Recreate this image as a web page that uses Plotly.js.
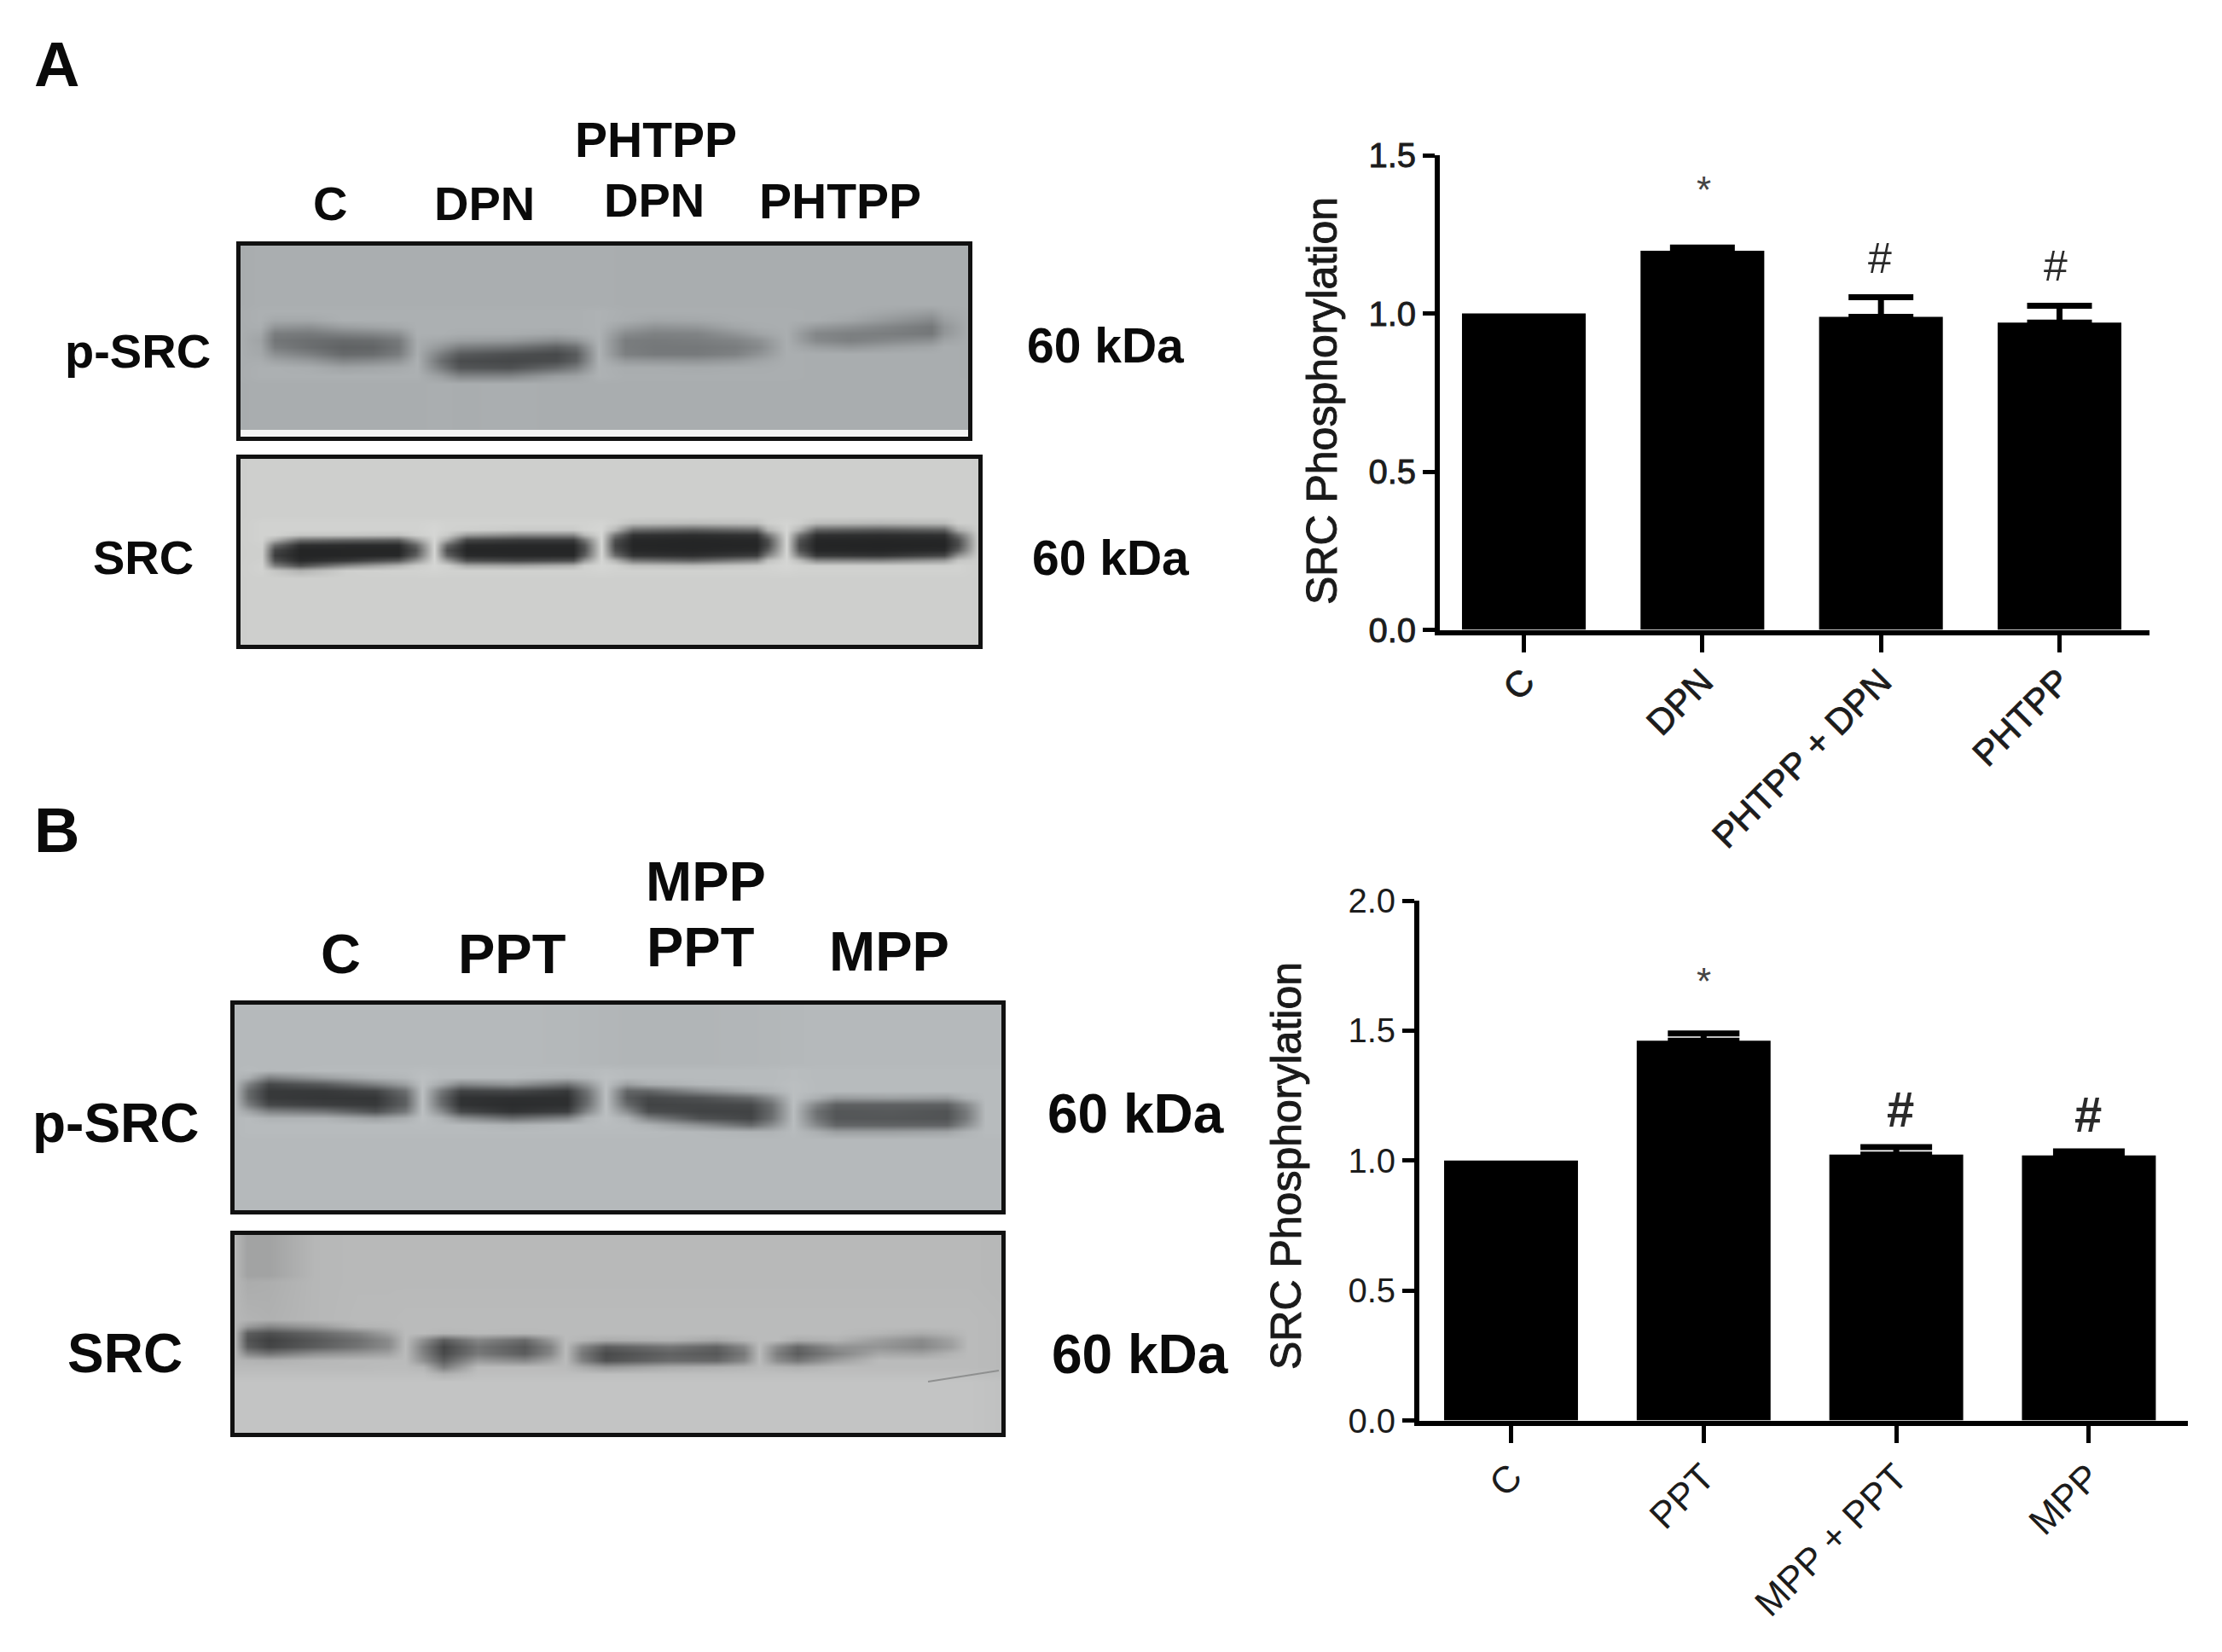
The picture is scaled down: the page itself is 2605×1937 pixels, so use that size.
<!DOCTYPE html>
<html><head><meta charset="utf-8">
<script src="https://cdn.plot.ly/plotly-3.0.1.min.js"></script>
<style>html,body{margin:0;padding:0;background:#fff}
.xtick text,.ytick text{stroke:#1c1c1c;stroke-width:.9px}
.annotation[data-index="20"] text,.annotation[data-index="21"] text{stroke:#1a1a1a;stroke-width:1px}
</style></head>
<body><div id="chart" style="width:2605px;height:1937px"></div>
<script>
// ---- bar charts: values ----
const catsA = ['C','DPN','PHTPP + DPN','PHTPP'];
const valsA = [1.0,1.198,0.989,0.971];
const errsA = [NaN,0.010,0.062,0.053];
const catsB = ['C','PPT','MPP + PPT','MPP'];
const valsB = [1.0,1.461,1.023,1.02];
const errsB = [NaN,0.028,0.029,0.015];
const sigA = ['','*','#','#'];
const sigB = ['','*','#','#'];
const sigYA = [0,1.39,1.175,1.15];
const sigYB = [0,1.69,1.198,1.179];
const sigShiftA = [0,2,-1,-5];
const sigShiftB = [0,0,5,-1];
const yTitle = 'SRC Phosphorylation';

// ---- blot lanes: grey level (0-255) read per gel column, top to bottom ----
const gelA1X = [5,28,45,85,125,160,190,212,240,262,320,375,398,425,456,490,540,585,612,645,680,720,770,815,830,858];
const gelA1Y = [10,82,92,100,108,116,124,132,140,148,158,222];
const gelA1 = [
[164,165,165,165,165,165,165,165,165,165,165,164],
[166,168,168,166,160,155,158,160,165,168,168,165],
[166,168,160,140,115,108,115,135,155,168,168,165],
[166,168,160,135,112,100,100,118,145,165,168,165],
[166,168,168,150,120,95,88,95,125,155,168,165],
[166,168,168,155,125,98,90,98,130,158,168,165],
[166,168,168,160,135,112,108,115,140,162,168,165],
[166,168,168,168,168,165,165,165,168,168,168,165],
[166,168,168,168,168,158,140,115,100,115,150,166],
[166,168,168,168,165,150,115,80,65,75,125,165],
[166,168,168,168,165,145,105,68,60,70,125,166],
[166,168,168,168,160,130,85,62,65,95,150,165],
[166,168,168,168,165,140,100,80,85,115,155,165],
[166,170,170,170,170,170,170,170,170,170,170,165],
[165,166,165,150,130,115,115,118,145,164,166,165],
[165,166,158,138,120,112,110,112,142,164,166,165],
[165,166,160,142,122,115,110,112,140,162,166,165],
[165,166,165,158,140,122,115,120,146,164,166,165],
[165,166,166,164,155,135,128,138,156,164,166,165],
[165,166,166,166,166,166,166,166,166,166,166,165],
[165,165,165,145,125,128,150,165,165,165,165,165],
[165,165,158,135,118,118,142,165,165,165,165,165],
[165,158,142,122,115,128,152,165,165,165,165,165],
[165,150,128,110,110,135,158,165,165,165,165,165],
[165,160,150,140,142,155,165,165,165,165,165,165],
[165,164,164,164,164,164,164,164,164,164,164,165]];

const gelA2X = [5,30,45,75,130,190,210,232,247,270,330,395,408,428,444,465,535,610,623,645,660,680,755,830,846,870];
const gelA2Y = [10,80,88,94,100,106,112,118,124,130,136,215];
const gelA2 = [
[204,204,204,204,204,204,204,204,204,204,204,204],
[205,208,208,208,208,206,205,205,206,208,208,205],
[205,208,208,208,170,100,60,50,70,120,195,205],
[205,208,208,195,100,35,25,25,30,70,175,205],
[205,208,208,195,90,32,26,26,45,130,205,205],
[205,208,208,190,85,32,26,28,80,175,208,205],
[205,208,208,205,150,90,70,85,140,200,208,205],
[205,210,212,212,212,212,212,212,212,212,210,205],
[205,208,208,200,160,95,70,90,150,205,208,205],
[205,208,205,150,60,30,26,30,70,165,208,205],
[205,208,200,130,50,28,26,28,60,160,208,205],
[205,208,200,130,50,28,26,28,70,175,208,205],
[205,208,208,180,110,75,70,85,145,205,208,205],
[205,210,212,212,212,212,212,212,212,212,210,205],
[205,205,180,110,70,60,70,100,175,208,208,205],
[205,190,100,40,28,26,28,40,110,190,208,205],
[205,185,85,35,26,25,26,35,90,185,208,205],
[205,190,100,40,28,26,30,50,130,200,208,205],
[205,205,175,110,70,65,85,125,190,208,208,205],
[205,210,212,212,212,212,212,212,212,212,210,205],
[205,205,175,110,75,65,75,115,185,208,208,205],
[205,185,90,38,27,25,27,45,130,205,208,205],
[205,180,80,35,26,24,26,40,125,205,208,205],
[205,185,90,38,27,25,30,60,150,205,208,205],
[205,205,170,105,70,65,85,140,195,208,208,205],
[204,204,204,204,204,204,204,204,204,204,204,204]];

const gelB1X = [5,21,45,110,170,205,225,247,270,330,395,418,440,465,490,550,610,634,660,688,710,775,840,862,885,904];
const gelB1Y = [10,82,90,98,106,114,122,130,138,146,154,238];
const gelB1 = [
[176,176,176,176,176,176,176,176,176,176,176,176],
[176,178,165,120,95,95,115,155,178,178,178,176],
[176,175,120,60,45,45,60,120,170,178,178,176],
[176,178,150,80,45,42,50,105,170,178,178,176],
[176,178,170,120,55,42,45,70,150,178,178,176],
[176,178,175,150,100,85,85,110,165,178,178,176],
[176,180,183,183,183,183,183,183,183,180,178,176],
[176,178,178,160,110,95,100,130,170,178,178,176],
[176,178,178,125,55,38,38,60,135,178,178,176],
[176,178,178,140,60,35,32,38,100,170,178,176],
[175,178,170,105,45,35,35,50,125,178,178,176],
[174,178,175,140,105,95,100,125,170,178,178,176],
[173,180,183,183,183,183,183,183,183,180,178,176],
[172,178,178,150,90,80,95,130,170,178,178,176],
[172,178,178,165,90,60,55,65,120,170,178,176],
[172,178,178,175,130,70,58,55,70,135,175,176],
[173,178,178,178,160,95,62,55,58,95,170,176],
[174,178,178,178,170,130,100,95,100,130,170,176],
[175,180,180,182,182,182,182,180,180,180,178,176],
[176,178,178,178,178,165,120,100,105,125,165,176],
[176,178,178,178,178,145,85,75,75,90,150,176],
[176,178,178,178,178,150,85,78,75,88,150,176],
[176,178,178,178,178,145,85,72,72,88,155,176],
[176,178,178,178,178,168,125,110,110,130,170,176],
[176,178,178,178,178,178,178,178,178,178,178,176],
[176,178,178,178,178,178,178,178,178,178,178,176]];

const gelB2X = [5,20,45,100,150,185,205,226,250,290,345,375,393,412,440,515,570,602,620,641,665,710,760,810,845,865,904];
const gelB2Y = [10,60,104,112,120,128,136,144,152,160,168,232];
const gelB2 = [
[182,182,182,182,182,182,182,182,182,185,190,195],
[160,170,178,150,85,75,85,130,178,185,190,195],
[160,172,175,130,70,55,60,110,175,185,190,195],
[182,182,182,150,95,80,85,140,182,185,190,195],
[184,184,185,178,125,105,110,150,185,185,190,195],
[184,184,185,182,160,135,135,160,185,187,190,195],
[184,184,186,186,186,186,186,186,186,187,190,195],
[184,184,186,186,186,140,120,125,140,180,190,195],
[184,184,186,186,180,85,60,65,85,120,175,195],
[184,184,186,186,185,130,110,115,150,186,190,195],
[184,184,186,186,182,100,80,85,130,186,190,195],
[184,184,186,186,185,150,125,130,160,186,190,195],
[184,184,186,186,186,186,186,186,186,186,190,195],
[184,184,186,186,186,180,130,115,125,170,190,195],
[184,184,186,186,186,170,85,65,72,150,190,195],
[184,184,186,186,186,178,110,90,100,170,190,195],
[184,184,186,186,186,165,90,80,95,175,190,195],
[184,184,186,186,186,180,130,115,130,180,190,195],
[184,184,186,186,186,186,186,186,186,186,190,195],
[184,184,186,186,186,186,135,120,135,180,190,195],
[184,184,186,186,186,170,95,85,110,175,190,195],
[184,184,186,186,186,178,140,125,155,186,190,195],
[184,184,186,186,180,155,145,165,186,186,190,195],
[184,184,186,186,170,135,130,160,186,186,190,195],
[184,184,186,186,178,160,155,178,186,186,190,195],
[184,184,186,186,186,186,186,186,186,186,190,195],
[182,182,184,184,184,184,184,184,184,184,188,192]];

const gelB2ScratchX = [818,901];
const gelB2ScratchY = [177,164];

// ---- text on the figure ----
const letterTexts = ['A','B'];
const blotTexts = ['C','DPN','PHTPP','DPN','PHTPP','p-SRC','SRC','60 kDa','60 kDa',
                   'C','PPT','MPP','PPT','MPP','p-SRC','SRC','60 kDa','60 kDa'];

// ---- layout ----
const W = 2605, H = 1937;
const px = (a,b) => [a/W, b/W];
const py = (top,bot) => [1-bot/H, 1-top/H];
const letterPos = [[66,76],[66,974]];
const blotPos = [[387,238],[568,238],[769,164],[767,234],[985,236],[161,412],[168,654],[1296,405],[1302,654],
                 [399,1118],[600,1118],[827,1033],[821,1110],[1042,1115],[136,1317],[146,1587],[1331,1306],[1336,1588]];
const blotSizes = [56,56,57,56,57,56,56,57,57,65,65,65,65,65,64,64,64,64];
const panelRects = [[277,283,863,234],[277,533,875,228],[270,1173,909,251],[270,1443,909,242]];
const BORDER = 5;
const gelBg = [168,208,178,187];
const gelMid = ['rgb(172,176,178)','rgb(209,210,208)','rgb(183,187,189)','rgb(187,188,188)'];

const transpose = m => m[0].map((_,r) => m.map(col => col[r]));
// keep each band's shoulder from smearing across the open membrane
const padY = Y => [Y[0],Y[1]-8,...Y.slice(1,-1),Y[Y.length-2]+9,Y[Y.length-1]];
const padCol = c => [c[0],c[0],...c.slice(1,-1),c[c.length-1],c[c.length-1]];
const minusOf = e => e.map(v => Number.isNaN(v) ? NaN : 0);

const traces = [
  {type:'bar',x:catsA,y:valsA,xaxis:'x',yaxis:'y',width:0.693,marker:{color:'#000'},
   error_y:{type:'data',array:errsA,arrayminus:minusOf(errsA),symmetric:false,color:'#000',thickness:7,width:38},hoverinfo:'skip'},
  {type:'bar',x:catsB,y:valsB,xaxis:'x2',yaxis:'y2',width:0.695,marker:{color:'#000'},
   error_y:{type:'data',array:errsB,arrayminus:minusOf(errsB),symmetric:false,color:'#000',thickness:7,width:42},hoverinfo:'skip'}
];
[[gelA1X,gelA1Y,gelA1],[gelA2X,gelA2Y,gelA2],[gelB1X,gelB1Y,gelB1],[gelB2X,gelB2Y,gelB2]].forEach((g,i)=>{
  const n = i+3;
  traces.push({type:'heatmap',x:g[0],y:padY(g[1]),z:transpose(g[2].map(padCol)),xaxis:'x'+n,yaxis:'y'+n,zsmooth:'best',
    zmin:0,zmax:255,showscale:false,hoverinfo:'skip',
    colorscale:[[0,'rgb(12,13,14)'],[gelBg[i]/255,gelMid[i]],[1,'#ffffff']]});
});
traces.push({type:'scatter',mode:'lines',x:gelB2ScratchX,y:gelB2ScratchY,xaxis:'x6',yaxis:'y6',
  line:{color:'#8f9090',width:2},hoverinfo:'skip'});

const tickFont = {family:'Liberation Sans, Arial, sans-serif',size:40,color:'#1c1c1c'};
const valAxis = (dom,rng,dt,anchor) => ({domain:dom,range:rng,dtick:dt,tick0:0,anchor:anchor,showgrid:false,zeroline:false,
  showline:true,linewidth:6,linecolor:'#000',ticks:'outside',ticklen:14,tickwidth:5,tickcolor:'#000',tickfont:tickFont,
  tickformat:'.1f'});
const catAxis = (dom,rng,anchor,size,standoff) => ({domain:dom,range:rng,type:'category',anchor:anchor,showgrid:false,zeroline:false,
  showline:true,linewidth:6,linecolor:'#000',ticks:'outside',ticklen:20,tickwidth:5,tickcolor:'#000',
  tickangle:-45,tickfont:{family:'Liberation Sans, Arial, sans-serif',size:size,color:'#1c1c1c'},ticklabelstandoff:standoff});

const layout = {width:W,height:H,margin:{l:0,r:0,t:0,b:0},paper_bgcolor:'#fff',plot_bgcolor:'rgba(0,0,0,0)',showlegend:false,bargap:0.3,
  xaxis:catAxis(px(1688,2520),[-0.4706,3.504],'y',42,-7),
  yaxis:valAxis(py(182,738.5),[0,1.5],0.5,'x'),
  xaxis2:catAxis(px(1664,2565),[-0.476,3.514],'y2',44,-3),
  yaxis2:valAxis(py(1056,1665.5),[0,2],0.5,'x2'),
  annotations:[],shapes:[]};

panelRects.forEach((r,i)=>{
  const n=i+3;
  const ax={showgrid:false,zeroline:false,showticklabels:false,ticks:'',showline:true,mirror:true,linewidth:BORDER,linecolor:'#111'};
  layout['xaxis'+n]=Object.assign({},ax,{domain:px(r[0]+BORDER,r[0]+r[2]-BORDER),range:[BORDER,r[2]-BORDER],anchor:'y'+n});
  layout['yaxis'+n]=Object.assign({},ax,{domain:py(r[1]+BORDER,r[1]+r[3]-BORDER),range:[r[3]-BORDER,BORDER],anchor:'x'+n});
});
// pale strip along the bottom of the first membrane
layout.shapes.push({type:'rect',xref:'x3',yref:'y3',x0:5,x1:858,y0:221,y1:229,fillcolor:'#f4f4f4',line:{width:0},layer:'above'});

const boldFont = s => ({family:'Liberation Sans, Arial, sans-serif',size:s,color:'#0a0a0a',weight:700});
const pageNote = (t,pos,s) => ({text:'<b>'+t+'</b>',xref:'paper',yref:'paper',x:pos[0]/W,y:1-pos[1]/H,xanchor:'center',yanchor:'middle',showarrow:false,font:boldFont(s)});
letterTexts.forEach((t,i)=>layout.annotations.push(pageNote(t,letterPos[i],74)));
blotTexts.forEach((t,i)=>layout.annotations.push(pageNote(t,blotPos[i],blotSizes[i])));

// y axis titles
[[1550,470],[1508,1367]].forEach(p=>layout.annotations.push({text:yTitle,xref:'paper',yref:'paper',x:p[0]/W,y:1-p[1]/H,xanchor:'center',yanchor:'middle',textangle:-90,showarrow:false,
  font:{family:'Liberation Sans, Arial, sans-serif',size:50,color:'#1a1a1a'}}));

// significance marks
const sigNote=(t,y,xr,yr,xc,shift)=>({text:(t==='#'&&xr==='x2')?'<b>#</b>':t,xref:xr,yref:yr,x:xc,y:y,xshift:shift,xanchor:'center',yanchor:'middle',showarrow:false,
  font:{family:'Liberation Sans, Arial, sans-serif',size:t==='*'?44:(xr==='x'?50:58),color:t==='*'?'#444':'#2a2a2a'}});
sigA.forEach((t,i)=>{if(t)layout.annotations.push(sigNote(t,sigYA[i],'x','y',catsA[i],sigShiftA[i]));});
sigB.forEach((t,i)=>{if(t)layout.annotations.push(sigNote(t,sigYB[i],'x2','y2',catsB[i],sigShiftB[i]));});

Plotly.newPlot('chart',traces,layout,{displayModeBar:false,staticPlot:true});
</script></body></html>
